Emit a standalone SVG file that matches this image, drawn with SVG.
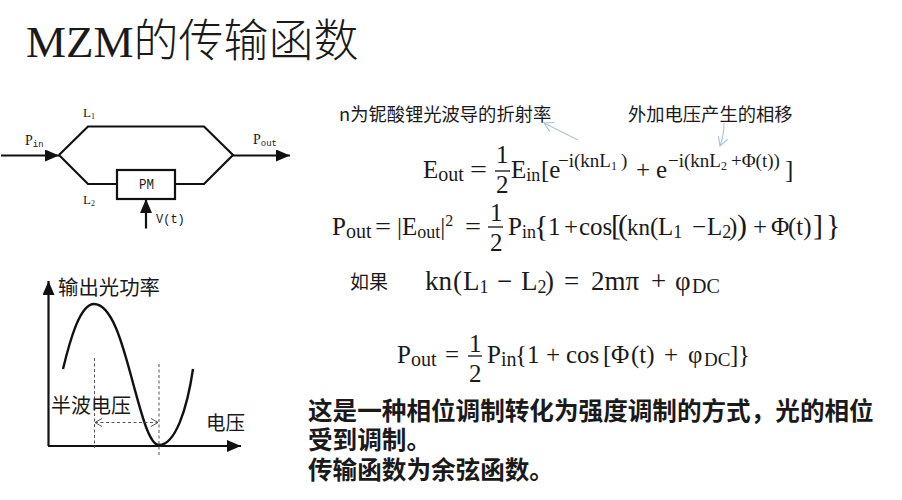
<svg xmlns="http://www.w3.org/2000/svg" width="902" height="500" viewBox="0 0 902 500">
<style>
text{font-family:"Liberation Serif","Noto Sans CJK SC",serif;fill:#1a1a1a}
.cjk{font-family:"Noto Sans CJK SC",sans-serif}
.m{font-size:25px}
.b{font-size:27px}
.s{font-size:18px}
.e{font-size:19px}
.mono{font-family:"Liberation Mono","Noto Sans CJK SC",monospace;font-size:12px}
.wg{fill:none;stroke:#111;stroke-width:2.2}
.bar{stroke:#111;stroke-width:1.3}
.dash{fill:none;stroke:#555;stroke-width:1;stroke-dasharray:3 2.5}
.blue{fill:none;stroke:#a9c4d8;stroke-width:1.1}
</style>
<defs>
<marker id="bk" markerUnits="userSpaceOnUse" markerWidth="15" markerHeight="12" refX="14" refY="6" orient="auto"><path d="M0 0L14 6L0 12z" fill="#111"/></marker>
<marker id="op" markerUnits="userSpaceOnUse" markerWidth="9" markerHeight="10" refX="8" refY="5" orient="auto-start-reverse"><path d="M1 1L8 5L1 9" fill="none" stroke="#555"/></marker>
<marker id="bl" markerUnits="userSpaceOnUse" markerWidth="11" markerHeight="12" refX="10" refY="6" orient="auto"><path d="M1 1L10 6L1 11" fill="none" stroke="#a9c4d8" stroke-width="1.1"/></marker>
</defs>
<rect width="902" height="500" fill="#fff"/>
<g id="title"><text x="26" y="57" font-size="45">MZM<tspan class="cjk" font-weight="300">的传输函数</tspan></text></g>
<g id="connectors">
<path class="wg" d="M1 155.500H59" marker-end="url(#bk)"/>
<path class="wg" d="M59 155L88 126.500H204L233 155L204 184H176M117 184H88L59 155"/>
<path class="wg" d="M233 155.500H290" marker-end="url(#bk)"/>
<path class="wg" d="M146 228.500V199" marker-end="url(#bk)"/>
<path class="blue" d="M578 140L544 123" marker-end="url(#bl)"/>
<path class="blue" d="M724 123Q724 135 720 146" marker-end="url(#bl)"/>
</g>
<g id="pm"><rect x="117" y="170" width="58" height="29" fill="#fff" stroke="#111" stroke-width="2.2"/><text class="mono" x="139" y="188.500" textLength="15" lengthAdjust="spacingAndGlyphs" style="font-size:14px">PM</text></g>
<g id="mzm-labels">
<text x="83" y="117" font-size="13">L<tspan font-size="8" dy="2">1</tspan></text>
<text x="83" y="204" font-size="13">L<tspan font-size="8" dy="2">2</tspan></text>
<text x="25" y="145" font-size="14">P<tspan font-size="9" dy="2" font-family="Liberation Mono">in</tspan></text>
<text x="253" y="144" font-size="14">P<tspan font-size="9" dy="2" font-family="Liberation Mono">out</tspan></text>
<text class="mono" x="156" y="223">V(t)</text>
</g>
<g id="plot">
<path class="wg" d="M48.500 446V281" marker-end="url(#bk)"/>
<path class="wg" d="M48 446H241" marker-end="url(#bk)"/>
<path fill="none" stroke="#111" stroke-width="2.400" d="M63 369C70 340 80 304 94 304C113 304 124 350 133 383C141 412 149 445 159 445C175 445 187 410 193 369"/>
<path class="dash" d="M94.500 358V448M159 364V455"/>
<path class="dash" d="M95 422.500H158" marker-start="url(#op)" marker-end="url(#op)"/>
<text class="cjk" x="58" y="295" font-size="20.400">输出光功率</text>
<text class="cjk" x="51" y="413" font-size="20">半波电压</text>
<text class="cjk" x="206" y="430" font-size="19.500">电压</text>
</g>
<g id="notes">
<text class="cjk" x="339" y="121" font-size="18.300">n为铌酸锂光波导的折射率</text>
<text class="cjk" x="628" y="121" font-size="18.300">外加电压产生的相移</text>
</g>
<g id="eq1">
<text class="m" x="423" y="178">E<tspan class="s" dy="3" style="font-size:20px">out</tspan></text>
<text class="m" x="470" y="178" textLength="17" lengthAdjust="spacingAndGlyphs">=</text>
<text class="m" x="496" y="163">1</text><path class="bar" d="M495 171H510"/><text class="m" x="496" y="193">2</text>
<text class="m" x="511" y="178">E<tspan class="s" dy="3">in</tspan><tspan x="541" dy="-3">[e</tspan><tspan class="e" x="558" dy="-11">−i(knL</tspan><tspan font-size="12" dy="3">1</tspan><tspan class="e" dy="-3" x="621">)</tspan><tspan x="636" dy="11">+</tspan><tspan x="656">e</tspan><tspan class="e" x="668" dy="-11">−i(knL</tspan><tspan font-size="12" dy="3">2</tspan><tspan class="e" dy="-3" x="731">+Φ(t))</tspan><tspan x="785" dy="11">]</tspan></text>
</g>
<g id="eq2">
<text class="m" x="332" y="235">P<tspan class="s" dy="3" style="font-size:20px">out</tspan></text>
<text class="m" x="375" y="235" textLength="16" lengthAdjust="spacingAndGlyphs">=</text>
<text class="m" x="397" y="235">|E<tspan class="s" dy="3">out</tspan><tspan dy="-3">|</tspan><tspan font-size="16" dy="-9">2</tspan></text>
<text class="m" x="465" y="235" textLength="16" lengthAdjust="spacingAndGlyphs">=</text>
<text class="m" x="490" y="221">1</text><path class="bar" d="M488 227H503"/><text class="m" x="490" y="251">2</text>
<text class="m" x="508" y="235">P<tspan class="s" dy="3">in</tspan><tspan font-size="30" x="534" dy="-2">{</tspan><tspan x="548" dy="-1">1</tspan><tspan x="564">+</tspan><tspan x="579">cos</tspan><tspan font-size="30" x="611">[</tspan><tspan font-size="30" x="618">(</tspan><tspan x="627" font-size="23">kn</tspan><tspan x="650">(</tspan><tspan x="658">L</tspan><tspan class="s" dy="3">1</tspan><tspan x="692" dy="-3">−</tspan><tspan x="707">L</tspan><tspan class="s" dy="3">2</tspan><tspan x="729" dy="-3">)</tspan><tspan font-size="30" x="737">)</tspan><tspan x="753">+</tspan><tspan x="771">Φ</tspan><tspan x="788">(t)</tspan><tspan font-size="30" x="813">]</tspan><tspan font-size="30" x="826">}</tspan></text>
</g>
<g id="eq3">
<text class="cjk" x="350" y="289" font-size="19">如果</text>
<text class="b" x="425" y="290">kn<tspan x="453">(</tspan><tspan x="463">L</tspan><tspan class="s" dy="3">1</tspan><tspan x="497" dy="-3">−</tspan><tspan x="521">L</tspan><tspan class="s" dy="3">2</tspan><tspan x="545" dy="-3">)</tspan><tspan x="564">=</tspan><tspan x="591">2mπ</tspan><tspan x="651">+</tspan><tspan x="675">φ</tspan><tspan class="s" x="692" dy="3" style="font-size:20px">DC</tspan></text>
</g>
<g id="eq4">
<text class="m" x="397" y="363">P<tspan class="s" dy="3" style="font-size:20px">out</tspan></text>
<text class="m" x="445" y="363" textLength="14" lengthAdjust="spacingAndGlyphs">=</text>
<text class="m" x="469" y="352">1</text><path class="bar" d="M468 356H482"/><text class="m" x="469" y="382">2</text>
<text class="m" x="487" y="363">P<tspan class="s" dy="3" style="font-size:20px">in</tspan><tspan x="515" dy="-3">{</tspan><tspan x="527">1</tspan><tspan x="546">+</tspan><tspan x="566">cos</tspan><tspan x="603">[</tspan><tspan x="611">Φ</tspan><tspan x="631">(t)</tspan><tspan x="664">+</tspan><tspan x="688">φ</tspan><tspan class="s" x="704" dy="3" style="font-size:19px">DC</tspan><tspan x="730" dy="-3">]</tspan><tspan x="738">}</tspan></text>
</g>
<g id="summary" font-weight="700">
<text class="cjk" x="308" y="420" font-size="24.600">这是一种相位调制转化为强度调制的方式，光的相位</text>
<text class="cjk" x="308" y="449" font-size="24.600">受到调制。</text>
<text class="cjk" x="308" y="479" font-size="24.600">传输函数为余弦函数。</text>
</g>
</svg>
